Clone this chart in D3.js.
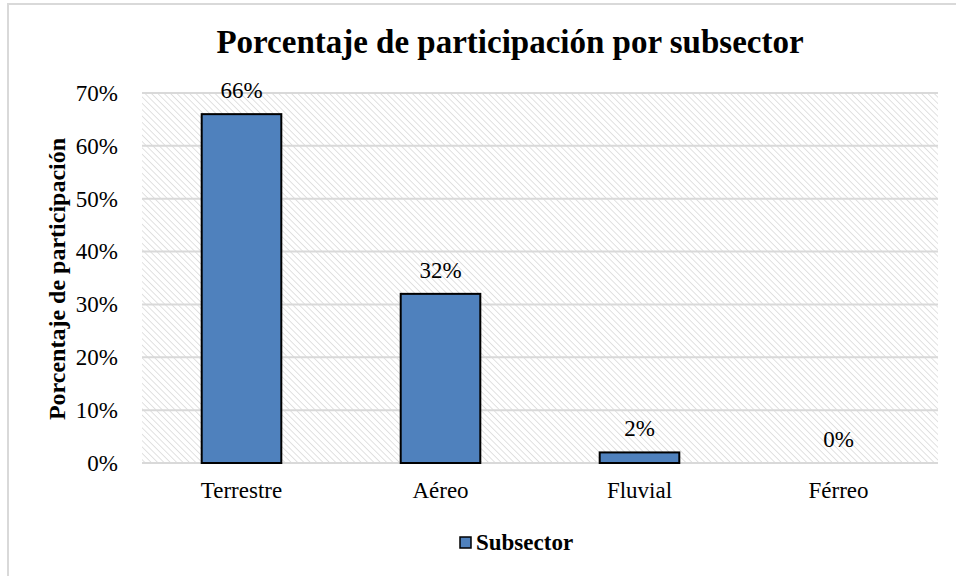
<!DOCTYPE html>
<html><head><meta charset="utf-8">
<script src="https://cdn.jsdelivr.net/npm/d3@7"></script>
<style>body{margin:0;background:#fff}svg{display:block}text{font-family:"Liberation Serif","Times New Roman",serif}</style>
</head><body><svg id="c" width="956" height="576"></svg>
<script>
const categories = ["Terrestre", "Aéreo", "Fluvial", "Férreo"];
const values = [66, 32, 2, 0];
const valueLabels = ["66%", "32%", "2%", "0%"];
const yTicks = [0, 10, 20, 30, 40, 50, 60, 70];
const seriesName = "Subsector";
const titleText = "Porcentaje de participación por subsector";
const yTitle = "Porcentaje de participación";

const svg = d3.select("#c");
const W = 956, H = 576;
const m = {left:142, right:938, top:93, bottom:463};
const FS = 23;

// chart border
svg.append("rect").attr("x",8).attr("y",4).attr("width",W+10).attr("height",H+10)
  .attr("fill","#fff").attr("stroke","#d9d9d9").attr("stroke-width",2);

const defs = svg.append("defs");
const pat = defs.append("pattern").attr("id","hatch").attr("patternUnits","userSpaceOnUse")
  .attr("width",4.5).attr("height",4.5).attr("patternTransform","rotate(-45)");
pat.append("rect").attr("width",4.5).attr("height",4.5).attr("fill","#fff");
pat.append("line").attr("x1",0).attr("y1",0).attr("x2",0).attr("y2",4.5)
  .attr("stroke","#dedede").attr("stroke-width",1.8);

const x = d3.scaleBand().domain(categories).range([m.left, m.right]).paddingInner(0.6).paddingOuter(0.3);
const y = d3.scaleLinear().domain([0,70]).range([m.bottom, m.top]);

svg.append("rect").attr("x",m.left).attr("y",m.top).attr("width",m.right-m.left).attr("height",m.bottom-m.top)
  .attr("fill","url(#hatch)");

// gridlines
svg.append("g").selectAll("line").data(yTicks).join("line")
  .attr("x1",m.left).attr("x2",m.right).attr("y1",d=>y(d)).attr("y2",d=>y(d))
  .attr("stroke","#d9d9d9").attr("stroke-width",2);

// y axis labels
const yAxis = d3.axisLeft(y).tickValues(yTicks).tickFormat(d=>d+"%").tickSize(0).tickPadding(0);
const ga = svg.append("g").attr("transform","translate(118,0)").call(yAxis);
ga.select(".domain").remove();
ga.selectAll("text").attr("font-size",FS).attr("fill","#000").attr("font-family","Liberation Serif");

// x axis labels
const xAxis = d3.axisBottom(x).tickSize(0).tickPadding(0);
const gx = svg.append("g").attr("transform",`translate(0,${m.bottom+19})`).call(xAxis);
gx.select(".domain").remove();
gx.selectAll("text").attr("font-size",FS).attr("fill","#000").attr("font-family","Liberation Serif");

// bars
svg.append("g").selectAll("rect").data(values).join("rect")
  .attr("x",(d,i)=>x(categories[i])).attr("width",x.bandwidth())
  .attr("y",d=>y(d)).attr("height",d=>y(0)-y(d))
  .attr("fill","#4f81bd").attr("stroke","#000").attr("stroke-width",d=>d>0?2:0);

// value labels
svg.append("g").selectAll("text").data(values).join("text")
  .attr("x",(d,i)=>x(categories[i])+x.bandwidth()/2).attr("y",d=>y(d)-16)
  .attr("text-anchor","middle").attr("font-size",FS).attr("fill","#000")
  .text((d,i)=>valueLabels[i]);

// title
svg.append("text").attr("x",510).attr("y",53).attr("text-anchor","middle")
  .attr("font-size",33).attr("font-weight","bold").text(titleText);

// y title
svg.append("text").attr("transform","translate(65,279) rotate(-90)").attr("text-anchor","middle")
  .attr("font-size",24).attr("font-weight","bold").text(yTitle);

// legend
svg.append("rect").attr("x",460).attr("y",537).attr("width",11).attr("height",11)
  .attr("fill","#4f81bd").attr("stroke","#000").attr("stroke-width",1.5);
svg.append("text").attr("x",476).attr("y",550).attr("font-size",FS).attr("font-weight","bold").text(seriesName);
</script></body></html>
